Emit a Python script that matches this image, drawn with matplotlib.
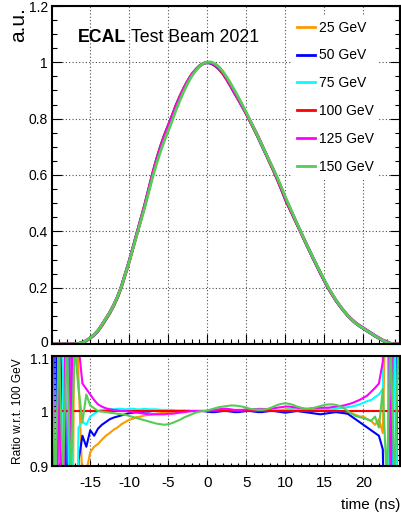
import numpy as np
import matplotlib
matplotlib.use('Agg')
import matplotlib.pyplot as plt
from matplotlib.ticker import MultipleLocator, FuncFormatter
from matplotlib.transforms import ScaledTranslation

plt.rcParams['font.family'] = ['Liberation Sans', 'DejaVu Sans']

# ---------------- data ----------------
time_ns = np.arange(-20.0, 25.0, 0.5)   # 90 samples

pulse_100 = [
    0, 0, 0, 0, 0, 0, 0, 0.002, 0.005, 0.012,
    0.022, 0.033, 0.048, 0.068, 0.09, 0.112, 0.138, 0.168, 0.205, 0.25,
    0.295, 0.345, 0.395, 0.445, 0.495, 0.55, 0.605, 0.655, 0.70, 0.74,
    0.775, 0.81, 0.847, 0.879, 0.908, 0.934, 0.956, 0.973, 0.987, 0.996,
    1.0, 0.998, 0.99, 0.977, 0.96, 0.939, 0.916, 0.892, 0.868, 0.843,
    0.817, 0.79, 0.763, 0.735, 0.705, 0.675, 0.645, 0.615, 0.583, 0.55,
    0.515, 0.485, 0.455, 0.425, 0.396, 0.366, 0.337, 0.308, 0.28, 0.252,
    0.225, 0.199, 0.176, 0.154, 0.135, 0.117, 0.101, 0.087, 0.075, 0.065,
    0.056, 0.047, 0.038, 0.029, 0.021, 0.013, 0.006, 0.002, 0, 0,
]

ratio_25 = [
    1.6, 0.3, 1.4, 0.5, 1.8, 0.2, 1.3, 1.06, 0.87, 0.89,
    0.925, 0.935, 0.94, 0.948, 0.955, 0.96, 0.966, 0.97, 0.976, 0.98,
    0.984, 0.986, 0.989, 0.99, 0.992, 0.993, 0.994, 0.995, 0.996, 0.997,
    0.997, 0.998, 0.998, 0.999, 0.999, 1.0, 1.0, 1.0, 1.0, 1.0,
    1.000, 1.001, 1.002, 1.002, 1.003, 1.003, 1.002, 1.001, 1.000, 1.000,
    1.001, 1.002, 1.003, 1.004, 1.004, 1.003, 1.002, 1.001, 1.001, 1.002,
    1.003, 1.004, 1.003, 1.002, 1.001, 1.000, 1.001, 1.002, 1.003, 1.004,
    1.003, 1.002, 1.001, 1.000, 0.999, 0.998, 0.998, 0.996, 0.993, 0.99,
    0.99, 0.985, 0.982, 0.975, 0.985, 0.96, 1.3, 0.6, 1.4, 0.5,
]
ratio_50 = [
    0.4, 1.5, 0.2, 1.7, 0.6, 1.4, 0.3, 0.91, 0.955, 0.935,
    0.965, 0.955, 0.968, 0.975, 0.98, 0.985, 0.988, 0.99, 0.992, 0.994,
    0.996, 0.997, 0.998, 0.998, 0.999, 0.999, 1.0, 1.0, 1.0, 1.0,
    1.0, 1.0, 1.0, 1.0, 1.0, 1.0, 1.0, 1.0, 1.0, 1.0,
    0.999, 0.998, 0.998, 0.999, 1.0, 1.0, 0.999, 0.998, 0.998, 0.999,
    1.0, 1.0, 0.999, 0.998, 0.998, 0.999, 1.0, 1.0, 0.999, 0.998,
    0.997, 0.998, 0.999, 1.0, 0.999, 0.998, 0.997, 0.996, 0.995, 0.994,
    0.995, 0.996, 0.997, 0.998, 0.997, 0.996, 0.995, 0.99, 0.985, 0.98,
    0.975, 0.97, 0.965, 0.96, 0.955, 0.93, 0.5, 1.4, 0.3, 1.5,
]
ratio_75 = [
    1.07, 0.5, 1.3, 1.07, 0.2, 1.6, 0.4, 0.97, 0.98, 0.975,
    0.99, 0.995, 1.0, 1.002, 1.003, 1.004, 1.003, 1.004, 1.004, 1.003,
    1.004, 1.004, 1.003, 1.003, 1.004, 1.003, 1.003, 1.003, 1.002, 1.002,
    1.002, 1.002, 1.001, 1.001, 1.001, 1.001, 1.0, 1.0, 1.0, 1.0,
    1.0, 1.001, 1.001, 1.002, 1.002, 1.002, 1.001, 1.001, 1.0, 1.0,
    1.001, 1.002, 1.002, 1.003, 1.003, 1.002, 1.001, 1.001, 1.0, 1.001,
    1.002, 1.003, 1.003, 1.002, 1.001, 1.0, 1.001, 1.002, 1.003, 1.004,
    1.004, 1.003, 1.003, 1.004, 1.005, 1.006, 1.007, 1.008, 1.01, 1.012,
    1.015, 1.018, 1.02, 1.025, 1.03, 1.04, 1.6, 0.3, 1.2, 0.7,
]
ratio_125 = [
    1.5, 0.5, 1.12, 0.5, 1.6, 0.88, 1.5, 1.12, 1.05, 1.04,
    1.03, 1.02, 1.012, 1.008, 1.005, 1.003, 1.002, 1.001, 1.0, 1.0,
    0.999, 0.998, 0.997, 0.996, 0.995, 0.994, 0.994, 0.994, 0.994, 0.994,
    0.995, 0.995, 0.996, 0.997, 0.998, 0.999, 1.0, 1.0, 1.0, 1.0,
    1.0, 1.001, 1.002, 1.003, 1.004, 1.004, 1.003, 1.002, 1.002, 1.002,
    1.003, 1.003, 1.003, 1.003, 1.003, 1.003, 1.004, 1.005, 1.006, 1.007,
    1.008, 1.008, 1.007, 1.006, 1.005, 1.004, 1.004, 1.005, 1.005, 1.006,
    1.006, 1.006, 1.007, 1.008, 1.009, 1.01, 1.012, 1.014, 1.017, 1.02,
    1.024, 1.028, 1.035, 1.042, 1.05, 1.09, 1.5, 0.88, 1.3, 1.6,
]
ratio_150 = [
    1.13, 0.87, 1.12, 0.88, 1.13, 0.87, 1.12, 1.04, 0.98, 1.03,
    1.01, 1.005, 1.0, 0.999, 0.998, 0.997, 0.996, 0.995, 0.994, 0.993,
    0.991, 0.989, 0.987, 0.985, 0.983, 0.981, 0.979, 0.977, 0.976, 0.975,
    0.976, 0.978, 0.981, 0.984, 0.988, 0.991, 0.994, 0.997, 0.999, 1.0,
    1.001, 1.003, 1.005, 1.007, 1.008, 1.009, 1.01, 1.01, 1.009, 1.008,
    1.006, 1.004, 1.003, 1.002, 1.002, 1.003, 1.005, 1.008, 1.011, 1.013,
    1.014, 1.013, 1.011, 1.008, 1.006, 1.004, 1.004, 1.005, 1.007, 1.009,
    1.011, 1.012, 1.012, 1.011, 1.009, 1.005, 1.0, 0.995, 0.991, 0.989,
    0.987, 0.985, 0.982, 0.99, 0.97, 1.04, 0.87, 1.13, 0.87, 1.12,
]
ratio_100 = [1.0] * len(time_ns)

energies = ['25 GeV', '50 GeV', '75 GeV', '100 GeV', '125 GeV', '150 GeV']
ratios = [ratio_25, ratio_50, ratio_75, ratio_100, ratio_125, ratio_150]
colors = ['#ff9900', '#0000ff', '#00ffff', '#ff0000', '#ff00ff', '#55cc55']

# ---------------- figure ----------------
W, H = 401, 519
fig = plt.figure(figsize=(W / 100, H / 100), dpi=100)
L, R = 52, 400
ax1 = fig.add_axes([L / W, 1 - 344 / H, (R - L) / W, (344 - 6) / H])
ax2 = fig.add_axes([L / W, 1 - 466 / H, (R - L) / W, (466 - 356) / H])

pulse = np.array(pulse_100)
for lab, r, c in zip(energies, ratios, colors):
    ax1.plot(time_ns, pulse * np.array(r), color=c, lw=2.0, label=lab,
             solid_joinstyle='round')
    ax2.plot(time_ns, r, color=c, lw=1.5)

xlim = (-19.9, 24.7)
fmt = FuncFormatter(lambda v, p: '%g' % round(v, 3))
grid_kw = dict(color='0.3', linestyle=(0, (1, 2)), linewidth=0.8)

for ax in (ax1, ax2):
    ax.set_xlim(*xlim)
    ax.xaxis.set_major_locator(MultipleLocator(5))
    ax.xaxis.set_minor_locator(MultipleLocator(1))
    ax.grid(True, which='major', **grid_kw)
    ax.set_axisbelow(True)
    for s in ax.spines.values():
        s.set_linewidth(1.5)
    ax.tick_params(which='both', direction='in', right=True, top=False,
                   width=0.8)

ax1.set_ylim(0, 1.2)
ax1.yaxis.set_major_locator(MultipleLocator(0.2))
ax1.yaxis.set_minor_locator(MultipleLocator(0.05))
ax1.yaxis.set_major_formatter(fmt)
ax1.tick_params(axis='x', labelbottom=False)
ax1.tick_params(which='major', length=7)
ax1.tick_params(which='minor', length=3.5)
ax1.tick_params(axis='y', labelsize=10, pad=3)

ax2.set_ylim(0.9, 1.1)
ax2.yaxis.set_major_locator(MultipleLocator(0.1))
ax2.yaxis.set_minor_locator(MultipleLocator(0.01))
ax2.yaxis.set_major_formatter(fmt)
ax2.xaxis.set_major_formatter(fmt)
ax2.tick_params(axis='y', which='major', length=6, labelsize=10, pad=2.5)
ax2.tick_params(axis='y', which='minor', length=3.5)
ax2.tick_params(axis='x', which='major', length=4, labelsize=11, pad=7)
ax2.tick_params(axis='x', which='minor', length=2)

leg = ax1.legend(loc='upper left', bbox_to_anchor=((291 - L) / (R - L), (344 - 15) / 338),
                 borderaxespad=0, frameon=True, fancybox=False, framealpha=1,
                 facecolor='white', edgecolor='none', fontsize=10,
                 handlelength=1.3, handletextpad=0.3, labelspacing=1.0,
                 borderpad=0.4)

fig.text(78 / W, 1 - 41.7 / H, 'ECAL', fontsize=12.8, fontweight='bold', va='baseline')
fig.text(131 / W, 1 - 41.7 / H, 'Test Beam 2021', fontsize=12.8, va='baseline')

fig.text(18.5 / W, 1 - 7 / H, 'a.u.', fontsize=15, rotation=90, ha='center', va='top')
fig.text(18 / W, 1 - 411 / H, 'Ratio w.r.t. 100 GeV', fontsize=8.6, rotation=90,
         ha='center', va='center')
fig.text(400 / W, 1 - 505 / H, 'time (ns)', fontsize=11, ha='right', va='center')

# nudge the two adjacent labels ("0" of the top panel, "1.1" of the ratio panel) apart
fig.canvas.draw()
for tk in ax1.yaxis.get_major_ticks():
    if abs(tk.get_loc() - 0.0) < 1e-6:
        tk.label1.set_transform(tk.label1.get_transform() +
                                ScaledTranslation(0, 1.5 / 72, fig.dpi_scale_trans))
for tk in ax2.yaxis.get_major_ticks():
    if abs(tk.get_loc() - 1.1) < 1e-6:
        tk.label1.set_transform(tk.label1.get_transform() +
                                ScaledTranslation(0, -2 / 72, fig.dpi_scale_trans))

fig.savefig('out.png', dpi=100)
